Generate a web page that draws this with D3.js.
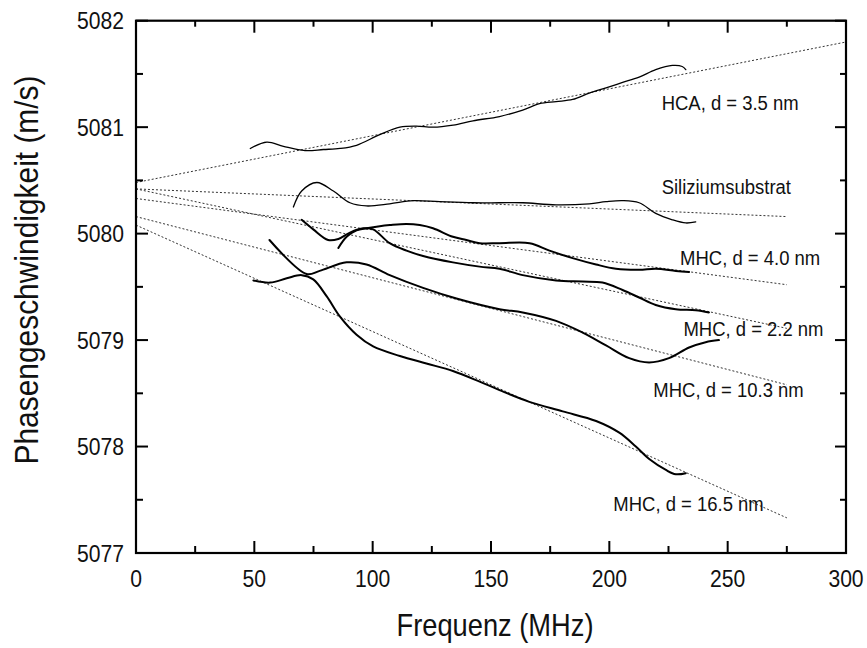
<!DOCTYPE html>
<html>
<head>
<meta charset="utf-8">
<script src="https://cdn.jsdelivr.net/npm/d3@7"></script>
<style>
  html, body { margin: 0; padding: 0; background: #fff; }
  svg { display: block; }
  text { font-family: "Liberation Sans", Arial, Helvetica, sans-serif; fill: #111; }
</style>
</head>
<body>
<svg id="chart" width="867" height="648"></svg>
<script>
// Phase velocity of surface acoustic waves vs. frequency
const freqHCA  = [48.3,55.3,62.3,71.4,79.2,86.2,93.2,103.0,111.5,118.5,125.5,134.0,142.4,153.6,163.4,170.5,177.5,184.5,191.5,198.6,205.6,212.6,219.6,226.6,230.8,232.3];
const velHCA   = [5080.80,5080.86,5080.82,5080.78,5080.79,5080.80,5080.83,5080.93,5081.00,5081.01,5081.00,5081.02,5081.06,5081.10,5081.16,5081.22,5081.24,5081.26,5081.32,5081.37,5081.42,5081.47,5081.54,5081.58,5081.57,5081.54];

const freqSi   = [66.5,70.0,76.4,83.4,90.4,97.4,107.2,117.1,128.3,142.4,153.6,163.4,177.5,191.5,198.6,205.6,212.6,219.6,226.6,232.3,236.5];
const velSi    = [5080.25,5080.40,5080.48,5080.40,5080.29,5080.26,5080.28,5080.31,5080.30,5080.29,5080.29,5080.29,5080.27,5080.28,5080.30,5080.31,5080.29,5080.19,5080.13,5080.10,5080.11];

const freqM40  = [85.5,89.0,93.2,97.4,103.0,107.3,114.3,119.9,125.5,133.9,139.6,145.2,153.6,166.3,174.7,184.5,194.4,202.8,212.6,219.6,228.1,233.7];
const velM40   = [5079.865,5079.97,5080.03,5080.05,5080.07,5080.08,5080.09,5080.08,5080.05,5079.97,5079.94,5079.91,5079.91,5079.91,5079.84,5079.77,5079.71,5079.67,5079.66,5079.67,5079.65,5079.64];

const freqM22  = [70.0,74.9,81.2,85.5,90.4,96.0,100.2,107.2,114.3,121.3,133.9,145.2,153.6,163.4,177.5,188.7,197.1,205.6,212.6,219.6,228.1,236.5,242.1];
const velM22   = [5080.13,5080.04,5079.94,5079.95,5080.01,5080.05,5080.04,5079.91,5079.84,5079.79,5079.73,5079.69,5079.67,5079.61,5079.56,5079.55,5079.54,5079.47,5079.40,5079.33,5079.29,5079.28,5079.26];

const freqM103 = [56.4,72.1,77.6,89.0,97.4,107.2,121.3,135.4,153.6,163.4,177.5,188.7,198.6,208.4,216.8,225.2,233.7,240.7,246.3];
const velM103  = [5079.94,5079.62,5079.65,5079.73,5079.71,5079.61,5079.49,5079.39,5079.29,5079.26,5079.18,5079.07,5078.95,5078.83,5078.79,5078.83,5078.93,5078.98,5079.00];

const freqM165 = [49.6,56.7,63.7,70.0,74.9,80.6,86.2,93.2,100.2,111.5,122.7,133.9,145.2,153.6,166.2,180.3,194.4,204.2,211.2,217.0,223.9,228.1,232.3];
const velM165  = [5079.56,5079.54,5079.58,5079.61,5079.57,5079.41,5079.22,5079.05,5078.94,5078.85,5078.78,5078.71,5078.61,5078.53,5078.42,5078.33,5078.24,5078.13,5078.00,5077.88,5077.78,5077.74,5077.75];

// Linear fits: velocity at start frequency and at end frequency
const fitNames   = ["HCA", "Si", "M40", "M22", "M103", "M165"];
const fitFreqEnd = [300, 275, 275, 275, 275, 275];
const fitVel0    = [5080.48, 5080.42, 5080.33, 5080.42, 5080.16, 5080.08];
const fitVel1    = [5081.80, 5080.16, 5079.52, 5079.11, 5078.58, 5077.33];

// Curve labels (anchor frequency, anchor velocity)
const labelText = ["HCA, d = 3.5 nm", "Siliziumsubstrat", "MHC, d = 4.0 nm", "MHC, d = 2.2 nm", "MHC, d = 10.3 nm", "MHC, d = 16.5 nm"];
const labelFreq = [222.1, 222.1, 229.9, 231.3, 218.6, 201.7];
const labelVel  = [5081.16, 5080.37, 5079.705, 5079.04, 5078.47, 5077.39];

const xMajor = [0, 50, 100, 150, 200, 250, 300];
const yMajor = [5077, 5078, 5079, 5080, 5081, 5082];

const svg = d3.select("#chart");
const plotLeft = 136, plotRight = 846, plotTop = 20.7, plotBottom = 553;
const condense = 0.88;   // horizontal squeeze for a condensed typeface look

const x = d3.scaleLinear().domain([0, 300]).range([plotLeft, plotRight]);
const y = d3.scaleLinear().domain([5077, 5082]).range([plotBottom, plotTop]);

function addText(px, py, str, size, anchor, rot) {
  return svg.append("text")
    .attr("transform", `translate(${px},${py}) rotate(${rot || 0}) scale(${condense},1)`)
    .attr("text-anchor", anchor || "start")
    .attr("font-size", size)
    .text(str);
}

const curves = [
  {f: freqHCA,  v: velHCA,  w: 1.3},
  {f: freqSi,   v: velSi,   w: 1.3},
  {f: freqM40,  v: velM40,  w: 2},
  {f: freqM22,  v: velM22,  w: 2},
  {f: freqM103, v: velM103, w: 2},
  {f: freqM165, v: velM165, w: 2}
];

const line = d3.line()
  .x(d => x(d[0]))
  .y(d => y(d[1]))
  .curve(d3.curveCatmullRom.alpha(0.5));

// Dotted fit lines
const g = svg.append("g");
fitNames.forEach((n, i) => {
  g.append("path")
    .attr("d", d3.line().x(d => x(d[0])).y(d => y(d[1]))([[0, fitVel0[i]], [fitFreqEnd[i], fitVel1[i]]]))
    .attr("fill", "none")
    .attr("stroke", "#333")
    .attr("stroke-width", 1)
    .attr("stroke-dasharray", "2,2");
});

// Measured curves
curves.forEach(c => {
  g.append("path")
    .attr("d", line(c.f.map((f, i) => [f, c.v[i]])))
    .attr("fill", "none")
    .attr("stroke", "#000")
    .attr("stroke-width", c.w)
    .attr("stroke-linecap", "round");
});

// Curve labels
labelText.forEach((t, i) => addText(x(labelFreq[i]), y(labelVel[i]), t, 21));

// Axes with inward ticks on all four sides
const axisG = svg.append("g");
const xMinor = d3.range(25, 300, 50);
const yMinor = d3.range(5077.5, 5082, 1);

function ticksH(vals, y0, dir, len) {
  vals.forEach(v => axisG.append("line")
    .attr("x1", x(v)).attr("x2", x(v))
    .attr("y1", y0).attr("y2", y0 + dir * len)
    .attr("stroke", "#000").attr("stroke-width", 2));
}
function ticksV(vals, x0, dir, len) {
  vals.forEach(v => axisG.append("line")
    .attr("y1", y(v)).attr("y2", y(v))
    .attr("x1", x0).attr("x2", x0 + dir * len)
    .attr("stroke", "#000").attr("stroke-width", 2));
}
ticksH(xMajor, plotBottom, -1, 12); ticksH(xMinor, plotBottom, -1, 7);
ticksH(xMajor, plotTop, 1, 12);     ticksH(xMinor, plotTop, 1, 6);
ticksV(yMajor, plotLeft, 1, 12);    ticksV(yMinor, plotLeft, 1, 7);
ticksV(yMajor, plotRight, -1, 11);  ticksV(yMinor, plotRight, -1, 6);

axisG.append("rect")
  .attr("x", plotLeft).attr("y", plotTop)
  .attr("width", plotRight - plotLeft).attr("height", plotBottom - plotTop)
  .attr("fill", "none").attr("stroke", "#000").attr("stroke-width", 2.2);

// Tick labels
xMajor.forEach(v => addText(x(v), 587, v, 24, "middle"));
yMajor.forEach(v => addText(124, y(v) + 8.5, v, 24, "end"));

// Axis titles
addText((plotLeft + plotRight) / 2 + 4, 636, "Frequenz (MHz)", 31, "middle");
addText(38, 270, "Phasengeschwindigkeit (m/s)", 34, "middle", -90);
</script>
</body>
</html>
